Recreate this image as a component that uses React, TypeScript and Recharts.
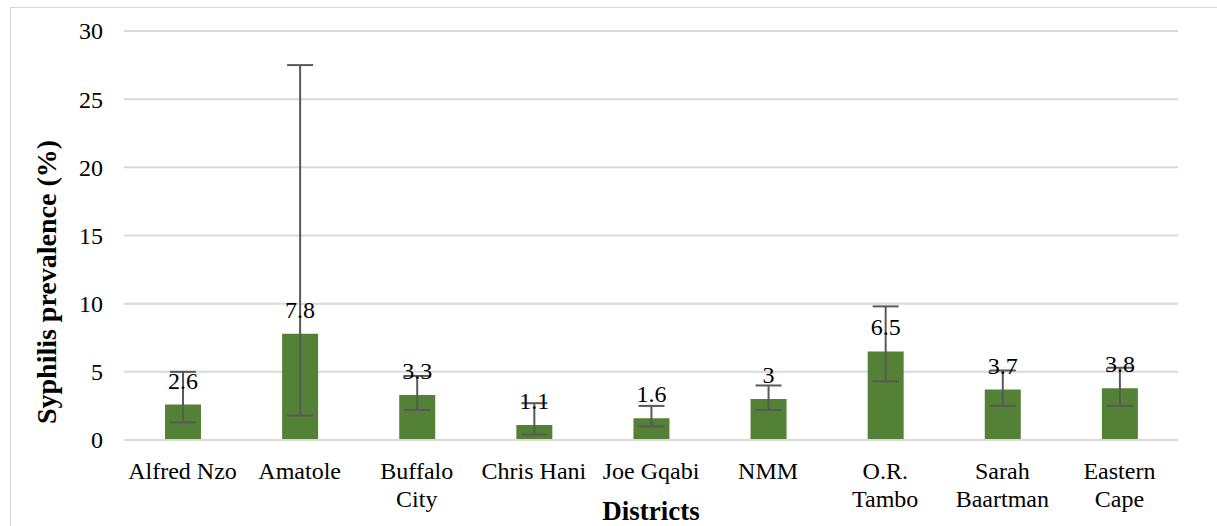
import React from "react";
import { BarChart, Bar, XAxis, YAxis, CartesianGrid, ErrorBar, LabelList, Label } from "recharts";

const categories = ["Alfred Nzo", "Amatole", "Buffalo City", "Chris Hani", "Joe Gqabi", "NMM", "O.R. Tambo", "Sarah Baartman", "Eastern Cape"];
const tickLines = [["Alfred Nzo"], ["Amatole"], ["Buffalo", "City"], ["Chris Hani"], ["Joe Gqabi"], ["NMM"], ["O.R.", "Tambo"], ["Sarah", "Baartman"], ["Eastern", "Cape"]];
const prevalence = [2.6, 7.8, 3.3, 1.1, 1.6, 3, 6.5, 3.7, 3.8];
const ciLower = [1.3, 1.8, 2.2, 0.4, 1.0, 2.2, 4.3, 2.5, 2.5];
const ciUpper = [5.0, 27.5, 4.7, 2.7, 2.5, 4.0, 9.8, 5.1, 5.3];
const yTicks = [0, 5, 10, 15, 20, 25, 30];

const data = categories.map((c, i) => ({
  name: c,
  value: prevalence[i],
  err: [prevalence[i] - ciLower[i], ciUpper[i] - prevalence[i]],
}));

const FONT = "'Liberation Serif', 'Times New Roman', serif";

const XTick = (props: any) => {
  const { x, y, index } = props;
  const lines = tickLines[index] || [];
  return (
    <g>
      {lines.map((l: string, k: number) => (
        <text key={k} x={x} y={y + 37 + k * 28} textAnchor="middle" fontFamily={FONT} fontSize={24} fill="#000">
          {l}
        </text>
      ))}
    </g>
  );
};

const YTick = (props: any) => {
  const { x, y, payload } = props;
  return (
    <text x={x} y={y} dy="0.35em" textAnchor="end" fontFamily={FONT} fontSize={24} fill="#000">
      {payload.value}
    </text>
  );
};

const YTitle = () => {
  const cx = 46;
  const cy = 282;
  return (
    <text x={cx} y={cy} transform={`rotate(-90, ${cx}, ${cy})`} textAnchor="middle" dominantBaseline="central" fontFamily={FONT} fontSize={28} fontWeight="bold" fill="#000">
      Syphilis prevalence (%)
    </text>
  );
};

const XTitle = (props: any) => {
  const vb = props.viewBox || {};
  const cx = vb.x + vb.width / 2;
  return (
    <text x={cx} y={520} textAnchor="middle" fontFamily={FONT} fontSize={27} fontWeight="bold" fill="#000">
      Districts
    </text>
  );
};

const ValueLabel = (props: any) => {
  const { x, y, width, value } = props;
  return (
    <text x={x + width / 2} y={y - 16} textAnchor="middle" fontFamily={FONT} fontSize={24} fill="#000">
      {value}
    </text>
  );
};

export default function App() {
  return (
    <div style={{ position: "fixed", left: 0, top: 0, width: 1217, height: 526, overflow: "hidden", background: "#fff" }}>
      <div style={{ position: "absolute", left: 10, top: 7, width: 1240, height: 600, border: "1px solid #d9d9d9", boxSizing: "border-box" }} />
      <div style={{ position: "absolute", left: 0, top: 0 }}>
        <BarChart width={1217} height={526} data={data} margin={{ top: 31, right: 39, bottom: 0, left: 0 }}>
          <CartesianGrid vertical={false} stroke="#d9d9d9" strokeWidth={2} />
          <XAxis dataKey="name" tick={<XTick />} tickLine={false} axisLine={{ stroke: "#d9d9d9", strokeWidth: 2 }} interval={0} tickSize={0} height={86}>
            <Label content={<XTitle />} />
          </XAxis>
          <YAxis width={124} domain={[0, 30]} ticks={yTicks} tickLine={false} axisLine={false} tickSize={0} tickMargin={21} tick={<YTick />} interval={0}>
            <Label content={<YTitle />} />
          </YAxis>
          <Bar dataKey="value" fill="#538135" isAnimationActive={false} barSize={36}>
            <LabelList dataKey="value" content={<ValueLabel />} />
            <ErrorBar dataKey="err" width={13} stroke="#595959" strokeWidth={2} direction="y" />
          </Bar>
        </BarChart>
      </div>
    </div>
  );
}
